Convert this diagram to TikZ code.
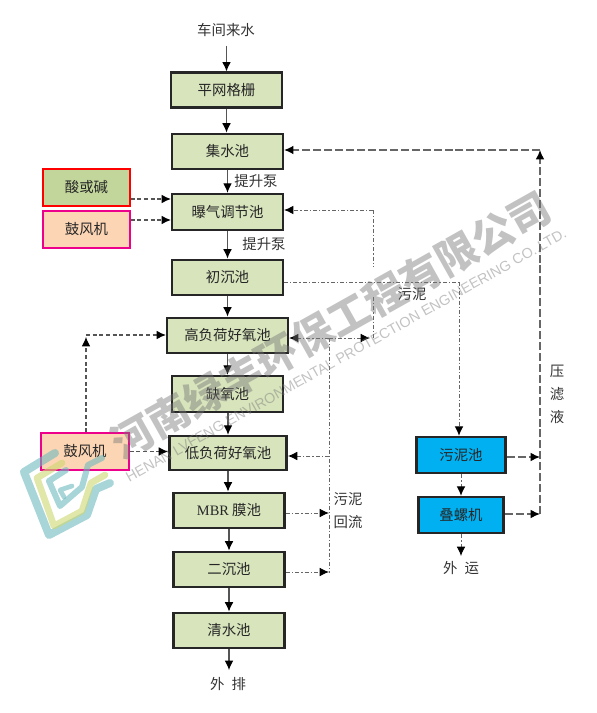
\documentclass[tikz,border=0pt]{standalone}
\usepackage{fontspec}
\setmainfont{Noto Sans CJK SC}
\newfontfamily\latinserif{Liberation Serif}
\newfontfamily\wmlatin{Liberation Sans}
\usetikzlibrary{arrows.meta}
\definecolor{boxgreen}{RGB}{216,228,188}
\definecolor{acidgreen}{RGB}{194,214,155}
\definecolor{blowerfill}{RGB}{252,213,180}
\definecolor{sludgeblue}{RGB}{0,176,240}
\definecolor{linegray}{RGB}{85,85,85}
\definecolor{wmgray}{RGB}{120,120,120}
\definecolor{wmteal}{RGB}{110,185,190}
\definecolor{wmlime}{RGB}{205,215,110}
\tikzset{
  x=0.75pt,y=-0.75pt,
  proc/.style={draw=black!85,line width=1.9pt,fill=boxgreen,inner sep=0pt,font=\fontsize{10.8}{12}\selectfont,text=black!85},
  aux/.style={line width=1.1pt,inner sep=0pt,font=\fontsize{10.8}{12}\selectfont,text=black!85},
  sludgebox/.style={proc,fill=sludgeblue},
  lbl/.style={inner sep=0pt,font=\fontsize{10.8}{12}\selectfont,text=black!80},
  flow/.style={draw=linegray,line width=0.8pt,-{Latex[length=7pt,width=6.5pt,black]}},
  air/.style={draw=linegray,line width=0.8pt,dash pattern=on 3pt off 2pt,-{Latex[length=7pt,width=6.5pt,black]}},
  press/.style={draw=gray!80!black,line width=1pt,dash pattern=on 6pt off 2.2pt},
  pressarrow/.style={press,-{Latex[length=7pt,width=6.5pt,black]}},
  mud/.style={draw=gray!80!black,line width=0.7pt,dash pattern=on 3pt off 1.5pt on 1pt off 1.5pt},
  mudarrow/.style={mud,-{Latex[length=7pt,width=6.5pt,black]}},
  wm/.style={text=wmgray,opacity=0.45,inner sep=0pt,rotate=29.3}
}
\begin{document}
\begin{tikzpicture}
\useasboundingbox (0,0) rectangle (596,713);
% process boxes
\node[proc,minimum width=83pt,minimum height=26pt] (grid) at (226.5,90) {平网格栅};
\node[proc,minimum width=83pt,minimum height=26.5pt] (sump) at (227.5,151.5) {集水池};
\node[proc,minimum width=83pt,minimum height=27pt] (aer) at (227.5,212) {曝气调节池};
\node[proc,minimum width=83pt,minimum height=26.5pt] (prim) at (227.5,277.5) {初沉池};
\node[proc,minimum width=90.5pt,minimum height=26.5pt] (hi) at (227.5,335.5) {高负荷好氧池};
\node[proc,minimum width=83pt,minimum height=27pt] (anox) at (227.5,394) {缺氧池};
\node[proc,minimum width=88pt,minimum height=25.5pt] (lo) at (228,453) {低负荷好氧池};
\node[proc,minimum width=83.5pt,minimum height=26.5pt] (mbr) at (229,510.5) {{\latinserif MBR} 膜池};
\node[proc,minimum width=83.5pt,minimum height=26.5pt] (sec) at (229,569.5) {二沉池};
\node[proc,minimum width=83.5pt,minimum height=26.5pt] (clear) at (229,630.5) {清水池};
\node[sludgebox,minimum width=67pt,minimum height=27pt] (mudp) at (461,455) {污泥池};
\node[sludgebox,minimum width=64pt,minimum height=27pt] (press) at (461,515) {叠螺机};
% auxiliary boxes
\node[aux,draw=red,fill=acidgreen,minimum width=65pt,minimum height=27.5pt] (acid) at (86.5,187.5) {酸或碱};
\node[aux,draw=magenta,fill=blowerfill,minimum width=65pt,minimum height=27.5pt] (fan) at (86.5,229.5) {鼓风机};
\node[aux,draw=magenta,fill=blowerfill,minimum width=66pt,minimum height=27.5pt] (fanb) at (85,451.5) {鼓风机};
% labels
\node[lbl] (src) at (226,30) {车间来水};
\node[lbl] (out) at (228,684) {外\hspace{0.5em}排};
\node[lbl] (haul) at (461,568) {外\hspace{0.5em}运};
\node[lbl] at (256,181) {提升泵};
\node[lbl] at (264,244) {提升泵};
\node[lbl] at (412,294) {污泥};
\node[lbl] at (348,499) {污泥};
\node[lbl] at (348,522) {回流};
\node[lbl] at (557,371) {压};
\node[lbl] at (557,394) {滤};
\node[lbl] at (557,417) {液};
% main flow
\coordinate (srcend) at (226.5,46);
\draw[flow] (srcend) -- (srcend |- grid.north);
\draw[flow] (grid.south) -- (grid.south |- sump.north);
\draw[flow] (sump) -- (aer);
\draw[flow] (aer) -- (prim);
\draw[flow] (prim) -- (hi);
\draw[flow] (hi) -- (anox);
\draw[flow] (lo.north |- anox.south) -- (lo.north);
\draw[flow] (lo.south) -- (lo.south |- mbr.north);
\draw[flow] (mbr) -- (sec);
\draw[flow] (sec) -- (clear);
\coordinate (outtop) at (229,670);
\draw[flow] (clear) -- (outtop);
% air and dosing
\draw[air] (acid.east |- 0,199) -- (aer.west |- 0,199);
\draw[air] (fan.east |- 0,220) -- (aer.west |- 0,220);
\coordinate (fcorner) at (86,335);
\coordinate (ftip) at (86,337);
\draw[air] (fanb.north -| ftip) -- (ftip);
\draw[air] (fcorner) -- (hi.west |- fcorner);
\draw[air] (fanb) -- (lo.west |- fanb);
% press filtrate
\coordinate (pb) at (540,514);
\coordinate (pt) at (540,150);
\draw[pressarrow] (pb) -- (pt);
\draw[pressarrow] (pt) -- (sump.east |- pt);
\draw[pressarrow] (mudp.east |- 0,457) -- (pb |- 0,457);
\draw[pressarrow] (press.east |- pb) -- (pb);
% sludge return
\coordinate (rtop) at (373,210);
\coordinate (rmid) at (373,267);
\coordinate (rmidb) at (373,297);
\coordinate (rjoin) at (373,338);
\coordinate (rv) at (329,338);
\coordinate (rvb) at (329,573);
\draw[mudarrow] (rtop) -- (aer.east |- rtop);
\draw[mud] (rtop) -- (rmid);
\draw[mud] (rmidb) -- (rjoin);
\draw[mudarrow] (rv) -- (370,338);
\draw[mudarrow] (rv) -- (hi.east |- rv);
\draw[mud] (rv) -- (rvb);
\draw[mudarrow] (rv |- 0,456) -- (lo.east |- 0,456);
\draw[mudarrow] (mbr.east |- 0,513) -- (rv |- 0,513);
\draw[mudarrow] (sec.east |- 0,572) -- (rv |- 0,572);
% sludge line
\coordinate (mc) at (459,282);
\draw[mud] (prim.east |- mc) -- (mc);
\draw[mudarrow] (mc) -- (mudp.north -| mc);
\draw[mudarrow] (mudp) -- (press);
\coordinate (hauly) at (461,556);
\draw[mudarrow] (press) -- (hauly);
% watermark
\begin{scope}[opacity=0.6,line cap=round,line join=round]
  \draw[wmteal,line width=6pt] (55,453) -- (24,472) -- (49,535) -- (87,515) -- (96,489) -- (110,483);
  \draw[wmlime,line width=5pt] (62,463) -- (37,478) -- (54,526) -- (82,511) -- (91,483) -- (105,475);
  \draw[wmteal,line width=4.5pt] (102,458) -- (88,465) -- (82,487) -- (60,506) -- (49,481) -- (66,470);
  \draw[wmteal,line width=3.5pt] (72,486) -- (60,490) -- (64,497);
\end{scope}
\node[wm,font=\bfseries\fontsize{31}{31}\selectfont] at (331,325) {河南绿丰环保工程有限公司};
\node[wm,font=\wmlatin\fontsize{10.75}{11}\selectfont] at (346.5,356) {HENAN LVFENG ENVIRONMENTAL PROTECTION ENGINEERING CO.,LTD.};
\end{tikzpicture}
\end{document}
